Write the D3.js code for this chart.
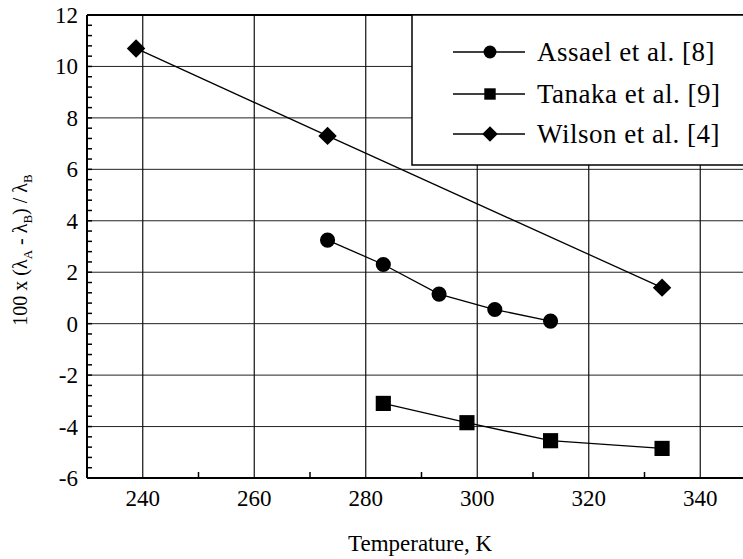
<!DOCTYPE html>
<html>
<head>
<meta charset="utf-8">
<script src="https://cdn.jsdelivr.net/npm/d3@7"></script>
<style>
  body { margin: 0; background: #fff; }
  svg { display: block; }
</style>
</head>
<body>
<svg id="chart" width="743" height="559" font-family="'Liberation Serif', 'Times New Roman', 'DejaVu Serif', serif"></svg>
<script>
// data
let assaelT = [273.15, 283.15, 293.15, 303.15, 313.15];
let assaelD = [3.25, 2.3, 1.15, 0.55, 0.1];

let tanakaT = [283.15, 298.15, 313.15, 333.15];
let tanakaD = [-3.1, -3.85, -4.55, -4.85];

let wilsonT = [238.8, 273.15, 333.15];
let wilsonD = [10.7, 7.3, 1.4];

let legendNames = ['Assael et al. [8]', 'Tanaka et al. [9]', 'Wilson et al. [4]'];
let xTicks = [240, 260, 280, 300, 320, 340];
let yTicks = [-6, -4, -2, 0, 2, 4, 6, 8, 10, 12];

let svg = d3.select('#chart');

let pLeft = 87, pRight = 756, pTop = 15, pBottom = 478;

let x = d3.scaleLinear().domain([230, 350]).range([pLeft, pRight]);
let y = d3.scaleLinear().domain([-6, 12]).range([pBottom, pTop]);

let g = svg.append('g');

// grid
g.selectAll('.hgrid')
    .data(yTicks.filter(d => d > -6 && d < 12))
    .enter()
    .append('line')
    .attr('x1', pLeft)
    .attr('x2', pRight)
    .attr('y1', d => y(d))
    .attr('y2', d => y(d))
    .attr('stroke', '#222')
    .attr('stroke-width', 1);

g.selectAll('.vgrid')
    .data(xTicks)
    .enter()
    .append('line')
    .attr('x1', d => x(d))
    .attr('x2', d => x(d))
    .attr('y1', pTop)
    .attr('y2', pBottom)
    .attr('stroke', '#111')
    .attr('stroke-width', 1.2);

// minor ticks (inward)
let yMinor = d3.range(-6, 12.01, 0.4);
g.selectAll('.ym')
    .data(yMinor)
    .enter()
    .append('line')
    .attr('x1', pLeft)
    .attr('x2', pLeft + 5)
    .attr('y1', d => y(d))
    .attr('y2', d => y(d))
    .attr('stroke', '#000')
    .attr('stroke-width', 1.5);

let xMinor = [250, 270, 290, 310, 330];
g.selectAll('.xm')
    .data(xMinor)
    .enter()
    .append('line')
    .attr('x1', d => x(d))
    .attr('x2', d => x(d))
    .attr('y1', pBottom)
    .attr('y2', pBottom - 6)
    .attr('stroke', '#000')
    .attr('stroke-width', 1.5);

// frame
g.append('line').attr('x1', pLeft).attr('x2', pLeft).attr('y1', pTop).attr('y2', pBottom)
    .attr('stroke', '#000').attr('stroke-width', 2);
g.append('line').attr('x1', pLeft).attr('x2', pRight).attr('y1', pBottom).attr('y2', pBottom)
    .attr('stroke', '#000').attr('stroke-width', 2);
g.append('line').attr('x1', pLeft).attr('x2', pRight).attr('y1', pTop).attr('y2', pTop)
    .attr('stroke', '#000').attr('stroke-width', 2);

// tick labels
g.selectAll('.yl')
    .data(yTicks)
    .enter()
    .append('text')
    .attr('x', pLeft - 9)
    .attr('y', d => y(d))
    .attr('dy', '0.35em')
    .attr('text-anchor', 'end')
    .attr('font-size', '23px')
    .text(d => d);

g.selectAll('.xl')
    .data(xTicks)
    .enter()
    .append('text')
    .attr('x', d => x(d))
    .attr('y', pBottom + 28)
    .attr('text-anchor', 'middle')
    .attr('font-size', '23px')
    .text(d => d);

g.append('text')
    .attr('x', 420)
    .attr('y', 551)
    .attr('text-anchor', 'middle')
    .attr('font-size', '23px')
    .text('Temperature, K');

let yl = g.append('text')
    .attr('transform', 'translate(27,' + 250 + ') rotate(-90)')
    .attr('text-anchor', 'middle')
    .attr('font-size', '20px');
yl.append('tspan').text('100 x (\u03BB');
yl.append('tspan').attr('font-size', '13px').attr('dy', 5).text('A');
yl.append('tspan').attr('dy', -5).text(' - \u03BB');
yl.append('tspan').attr('font-size', '13px').attr('dy', 5).text('B');
yl.append('tspan').attr('dy', -5).text(') / \u03BB');
yl.append('tspan').attr('font-size', '13px').attr('dy', 5).text('B');

// series
let line = d3.line()
    .x(d => x(d[0]))
    .y(d => y(d[1]));

// diamond = square turned 45 degrees
let series = [
    {pts: d3.zip(assaelT, assaelD), sym: d3.symbolCircle, size: 180, rot: 0},
    {pts: d3.zip(tanakaT, tanakaD), sym: d3.symbolSquare, size: 230, rot: 0},
    {pts: d3.zip(wilsonT, wilsonD), sym: d3.symbolSquare, size: 170, rot: 45}
];

series.forEach(function (s) {
    g.append('path')
        .datum(s.pts)
        .attr('d', line)
        .attr('fill', 'none')
        .attr('stroke', '#000')
        .attr('stroke-width', 1.3);

    g.selectAll(null)
        .data(s.pts)
        .enter()
        .append('path')
        .attr('d', d3.symbol().type(s.sym).size(s.size))
        .attr('transform', d => 'translate(' + x(d[0]) + ',' + y(d[1]) + ') rotate(' + s.rot + ')')
        .attr('fill', '#000');
});

// legend
let lg = g.append('g');
lg.append('rect')
    .attr('x', 412)
    .attr('y', pTop)
    .attr('width', 360)
    .attr('height', 150)
    .attr('fill', '#fff')
    .attr('stroke', '#000')
    .attr('stroke-width', 1.5);

let legendSyms = [
    {sym: d3.symbolCircle, size: 130, rot: 0},
    {sym: d3.symbolSquare, size: 130, rot: 0},
    {sym: d3.symbolSquare, size: 120, rot: 45}
];
let rowY = [52, 94, 134];

legendNames.forEach(function (name, i) {
    lg.append('line')
        .attr('x1', 453).attr('x2', 525)
        .attr('y1', rowY[i]).attr('y2', rowY[i])
        .attr('stroke', '#000').attr('stroke-width', 1.3);
    lg.append('path')
        .attr('d', d3.symbol().type(legendSyms[i].sym).size(legendSyms[i].size))
        .attr('transform', 'translate(490,' + rowY[i] + ') rotate(' + legendSyms[i].rot + ')')
        .attr('fill', '#000');
    lg.append('text')
        .attr('x', 537)
        .attr('y', rowY[i])
        .attr('dy', '0.35em')
        .attr('font-size', '27px')
        .attr('letter-spacing', '0.5px')
        .text(name);
});
</script>
</body>
</html>
